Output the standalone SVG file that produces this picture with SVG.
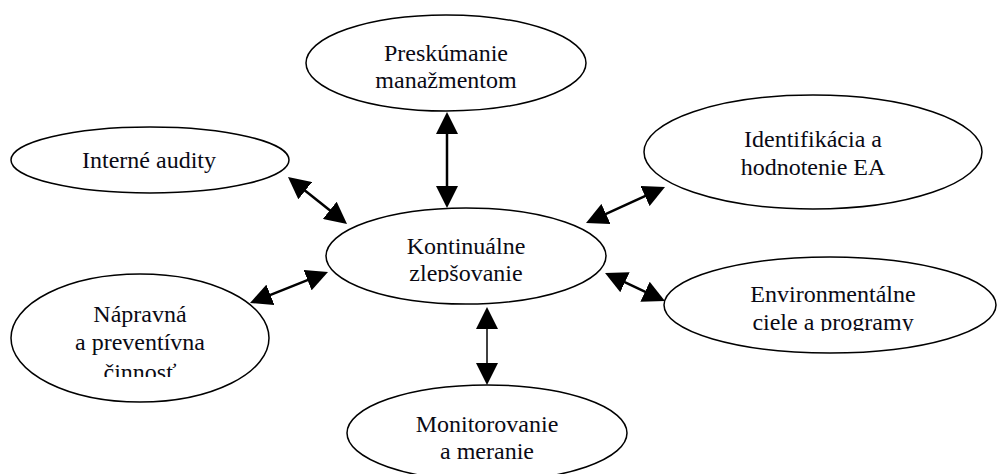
<svg xmlns="http://www.w3.org/2000/svg" width="997" height="474" viewBox="0 0 997 474">
  <style>
    .node ellipse { fill: #fff; stroke: #000; stroke-width: 1.5; }
    .node text { font-size: 24px; fill: #0a0a14; text-anchor: middle; }
    .link { stroke: #000; fill: none; marker-start: url(#head); marker-end: url(#head); }
    .thick { stroke-width: 2.5; }
    .thin { stroke-width: 1.5; }
  </style>
  <defs>
    <marker id="head" viewBox="0 0 22 22" refX="12" refY="11" markerWidth="22" markerHeight="22" markerUnits="userSpaceOnUse" orient="auto-start-reverse">
      <path d="M0,0 L22,11 L0,22 z" fill="#000"/>
    </marker>
    <!-- the lower text lines overflow their boxes and are cut off -->
    <clipPath id="clip-center"><rect x="300" y="200" width="340" height="82"/></clipPath>
    <clipPath id="clip-goals"><rect x="660" y="250" width="337" height="81"/></clipPath>
    <clipPath id="clip-action"><rect x="0" y="270" width="280" height="107"/></clipPath>
  </defs>

  <g font-family="'Liberation Serif', Tinos, 'Times New Roman', 'DejaVu Serif', serif">
  <g id="n-preskumanie" class="node">
    <ellipse cx="446" cy="63" rx="140" ry="48"/>
    <text x="446" y="61">Preskúmanie</text>
    <text x="446" y="88">manažmentom</text>
  </g>

  <g id="n-audity" class="node">
    <ellipse cx="150" cy="160" rx="139" ry="33"/>
    <text x="149" y="168">Interné audity</text>
  </g>

  <g id="n-identifikacia" class="node">
    <ellipse cx="813" cy="152" rx="169" ry="57"/>
    <text x="813" y="147">Identifikácia a</text>
    <text x="813" y="175">hodnotenie EA</text>
  </g>

  <g id="n-kontinualne" class="node">
    <ellipse cx="466" cy="256" rx="140" ry="48"/>
    <g clip-path="url(#clip-center)">
      <text x="466" y="254">Kontinuálne</text>
      <text x="466" y="281">zlepšovanie</text>
    </g>
  </g>

  <g id="n-environmentalne" class="node">
    <ellipse cx="830" cy="305" rx="166" ry="48"/>
    <g clip-path="url(#clip-goals)">
      <text x="833" y="302">Environmentálne</text>
      <text x="833" y="330">ciele a programy</text>
    </g>
  </g>

  <g id="n-napravna" class="node">
    <ellipse cx="140" cy="338" rx="129" ry="64"/>
    <g clip-path="url(#clip-action)">
      <text x="140" y="322">Nápravná</text>
      <text x="140" y="350">a preventívna</text>
      <text x="140" y="380">činnosť</text>
    </g>
  </g>

  <g id="n-monitorovanie" class="node">
    <ellipse cx="487" cy="433" rx="140" ry="48"/>
    <text x="487" y="432">Monitorovanie</text>
    <text x="487" y="459">a meranie</text>
  </g>
  </g>

  <g id="connectors">
    <line class="link thick" x1="447" y1="122" x2="447" y2="198"/>
    <line class="link thick" x1="295.8" y1="183.2" x2="339.2" y2="217.8"/>
    <line class="link thick" x1="655.9" y1="191.1" x2="595.1" y2="218.9"/>
    <line class="link thick" x1="318.7" y1="275.7" x2="259.3" y2="299.3"/>
    <line class="link thin" x1="487" y1="317" x2="487" y2="375"/>
    <line class="link thick" x1="614.1" y1="277.2" x2="655.9" y2="296.8"/>
  </g>
</svg>
